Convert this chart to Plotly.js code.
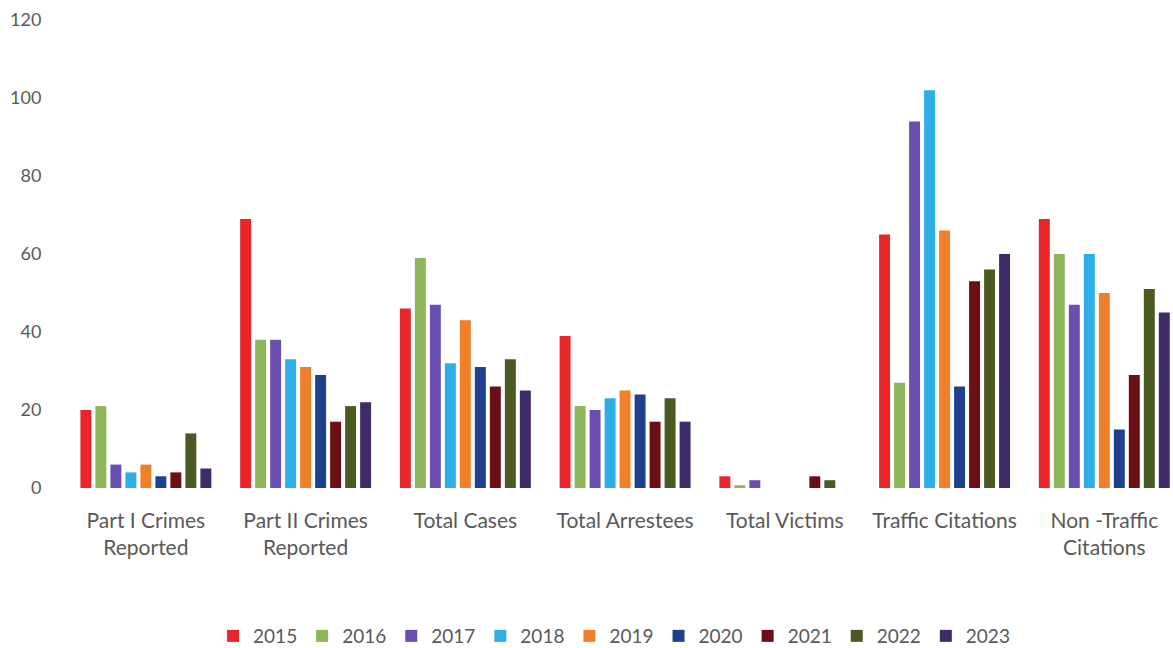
<!DOCTYPE html>
<html>
<head>
<meta charset="utf-8">
<script src="https://cdn.plot.ly/plotly-3.0.1.min.js"></script>
<style>html,body{margin:0;padding:0;background:#fff;}#chart{width:1173px;height:648px;}</style>
</head>
<body>
<div id="chart"></div>
<script>
const categories = ["Part I Crimes<br>Reported", "Part II Crimes<br>Reported", "Total Cases", "Total Arrestees", "Total Victims", "Traffic Citations", "Non -Traffic<br>Citations"];
const years = ["2015", "2016", "2017", "2018", "2019", "2020", "2021", "2022", "2023"];
const v2015 = [20, 69, 46, 39, 3, 65, 69];
const v2016 = [21, 38, 59, 21, 0.7, 27, 60];
const v2017 = [6, 38, 47, 20, 2, 94, 47];
const v2018 = [4, 33, 32, 23, 0, 102, 60];
const v2019 = [6, 31, 43, 25, 0, 66, 50];
const v2020 = [3, 29, 31, 24, 0, 26, 15];
const v2021 = [4, 17, 26, 17, 3, 53, 29];
const v2022 = [14, 21, 33, 23, 2, 56, 51];
const v2023 = [5, 22, 25, 17, 0, 60, 45];
const seriesValues = [v2015, v2016, v2017, v2018, v2019, v2020, v2021, v2022, v2023];
const colors = ["#e8262a", "#8db55a", "#6a4fb0", "#2eaee6", "#f07f2a", "#1f3f8f", "#6b0f14", "#4a5a22", "#3f2a6a"];

const traces = years.map((y, i) => ({
  type: "bar",
  name: y,
  x: categories,
  y: seriesValues[i],
  marker: {color: colors[i]},
  hoverinfo: "x+y+name"
}));

const fam = "Lato, 'Open Sans', sans-serif";
const yfont = {family: fam, size: 18, color: "#595959"};
const xfont = {family: fam, size: 21, color: "#595959"};
const lfont = {family: fam, size: 19, color: "#595959"};

const layout = {
  width: 1173, height: 648,
  margin: {l: 66, r: 0, t: 20, b: 160},
  paper_bgcolor: "#fff", plot_bgcolor: "#fff",
  font: yfont,
  barmode: "group",
  bargap: 0.155,
  bargroupgap: 0.27,
  showlegend: true,
  legend: {
    orientation: "h", xref: "container", yref: "container",
    x: 0.5235, xanchor: "center", y: 0.0185, yanchor: "middle",
    font: lfont, itemwidth: 30, traceorder: "normal"
  },
  xaxis: {
    type: "category", range: [-0.5, 6.43],
    showgrid: false, zeroline: false, showline: false,
    ticks: "", tickfont: xfont, automargin: false, ticklabelstandoff: 18
  },
  yaxis: {
    range: [0, 120], tickvals: [0, 20, 40, 60, 80, 100, 120],
    showgrid: false, zeroline: false, showline: false,
    ticks: "outside", ticklen: 20, tickcolor: "rgba(0,0,0,0)",
    tickfont: yfont, automargin: false
  }
};

Plotly.newPlot("chart", traces, layout, {displayModeBar: false, staticPlot: true});
</script>
</body>
</html>
